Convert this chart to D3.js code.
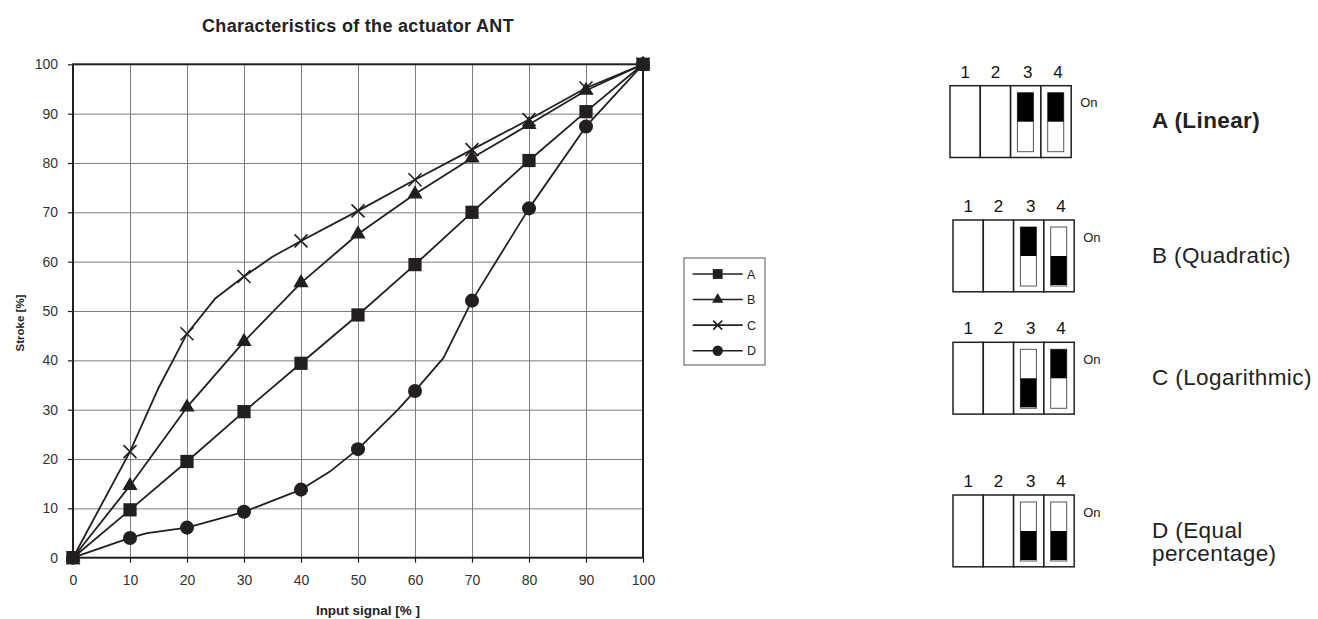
<!DOCTYPE html>
<html>
<head>
<meta charset="utf-8">
<script src="https://cdn.jsdelivr.net/npm/d3@7"></script>
<style>
  body { margin: 0; background: #fff; }
  svg { display: block; font-family: "Liberation Sans", Arial, sans-serif; }
</style>
</head>
<body>
<script>
// Characteristics of the actuator ANT

// input signal [%] where the markers sit
const signal = [0, 10, 20, 30, 40, 50, 60, 70, 80, 90, 100];
// stroke [%] for each characteristic
const strokeA = [0, 9.7, 19.5, 29.6, 39.4, 49.2, 59.4, 70.0, 80.5, 90.4, 100];
const strokeB = [0, 14.6, 30.5, 43.8, 55.7, 65.6, 73.7, 81.0, 87.8, 94.7, 100];
const strokeC = [0, 21.5, 45.4, 57.0, 64.2, 70.3, 76.6, 82.7, 88.8, 95.2, 100];
const strokeD = [0, 4.0, 6.1, 9.3, 13.8, 22.0, 33.8, 52.1, 70.8, 87.4, 100];
// extra bends of the drawn curves (no marker there)
const bendSignalC = [15, 25, 35];
const bendStrokeC = [34.4, 52.6, 61.0];
const bendSignalD = [13, 45, 57, 65];
const bendStrokeD = [5.0, 17.4, 30.0, 40.5];

const seriesNames = ["A", "B", "C", "D"];
const yTicks = [0, 10, 20, 30, 40, 50, 60, 70, 80, 90, 100];
const xTicks = [0, 10, 20, 30, 40, 50, 60, 70, 80, 90, 100];

// DIP switch settings (switch 3 and 4) for each characteristic
const switchNumbers = ["1", "2", "3", "4"];
const switch3 = ["up", "up", "down", "down"];
const switch4 = ["up", "down", "up", "down"];
const switchLabels = [["A (Linear)"], ["B (Quadratic)"], ["C (Logarithmic)"], ["D (Equal", "percentage)"]];
const switchBold = [true, false, false, false];

const width = 1318, height = 619;
const plot = {left: 73, right: 643, top: 64.3, bottom: 557.7};
const ink = "#231f20";

const svg = d3.select("body").append("svg")
  .attr("width", width)
  .attr("height", height);

const x = d3.scaleLinear().domain([0, 100]).range([plot.left, plot.right]);
const y = d3.scaleLinear().domain([0, 100]).range([plot.bottom, plot.top]);

// title
svg.append("text")
  .attr("x", 358).attr("y", 32)
  .attr("text-anchor", "middle")
  .style("font-weight", "bold")
  .style("font-size", "18px")
  .style("letter-spacing", "0.3px")
  .attr("fill", "#222")
  .text("Characteristics of the actuator ANT");

// grid
const grid = svg.append("g");
grid.append("g")
  .attr("transform", "translate(0," + plot.bottom + ")")
  .call(d3.axisBottom(x).tickValues(xTicks.slice(1, -1)).tickSize(-(plot.bottom - plot.top)).tickFormat(""))
  .call(g => g.select(".domain").remove());
grid.append("g")
  .attr("transform", "translate(" + plot.left + ",0)")
  .call(d3.axisLeft(y).tickValues(yTicks.slice(1, -1)).tickSize(-(plot.right - plot.left)).tickFormat(""))
  .call(g => g.select(".domain").remove());
grid.selectAll("line").attr("stroke", "#7d7d7d").attr("stroke-width", 1);

// axes
const xAxis = svg.append("g")
  .attr("transform", "translate(0," + plot.bottom + ")")
  .call(d3.axisBottom(x).tickValues(xTicks).tickSize(5).tickPadding(12).tickSizeOuter(0));
const yAxis = svg.append("g")
  .attr("transform", "translate(" + plot.left + ",0)")
  .call(d3.axisLeft(y).tickValues(yTicks).tickSize(5).tickPadding(10).tickSizeOuter(0));
[xAxis, yAxis].forEach(a => {
  a.select(".domain").remove();
  a.selectAll("line").attr("stroke", ink).attr("stroke-width", 1.2);
  a.selectAll("text").style("font-size", "14px").style("font-family", "'Liberation Sans', Arial, sans-serif").attr("fill", "#333");
});

// plot frame
svg.append("rect")
  .attr("x", plot.left).attr("y", plot.top)
  .attr("width", plot.right - plot.left).attr("height", plot.bottom - plot.top)
  .attr("fill", "none").attr("stroke", ink).attr("stroke-width", 2);

// axis titles
svg.append("text")
  .attr("x", 368).attr("y", 615)
  .attr("text-anchor", "middle")
  .style("font-weight", "bold").style("font-size", "13.5px")
  .attr("fill", "#222")
  .text("Input signal [% ]");
svg.append("text")
  .attr("transform", "translate(24,323) rotate(-90)")
  .attr("text-anchor", "middle")
  .style("font-weight", "bold").style("font-size", "11.5px")
  .attr("fill", "#222")
  .text("Stroke [%]");

// series
const strokes = [strokeA, strokeB, strokeC, strokeD];
const bendX = [[], [], bendSignalC, bendSignalD];
const bendY = [[], [], bendStrokeC, bendStrokeD];

function markerPath(name, big) {
  const k = big ? 1 : 0.55;
  if (name === "A") return d3.symbol().type(d3.symbolSquare).size(175 * k)();
  if (name === "B") return d3.symbol().type(d3.symbolTriangle).size(100 * k)();
  if (name === "D") return d3.symbol().type(d3.symbolCircle).size(155 * k)();
  const r = big ? 6.5 : 4.5;
  return "M" + (-r) + "," + (-r) + "L" + r + "," + r + "M" + (-r) + "," + r + "L" + r + "," + (-r);
}

const line = d3.line().x(d => x(d[0])).y(d => y(d[1]));

seriesNames.forEach((name, i) => {
  const pts = signal.map((s, j) => [s, strokes[i][j]])
    .concat(bendX[i].map((s, j) => [s, bendY[i][j]]))
    .sort((a, b) => a[0] - b[0]);
  svg.append("path")
    .datum(pts)
    .attr("d", line)
    .attr("fill", "none")
    .attr("stroke", ink)
    .attr("stroke-width", 1.8)
    .attr("stroke-linejoin", "round");
});

seriesNames.forEach((name, i) => {
  svg.append("g").selectAll("path")
    .data(signal.map((s, j) => [s, strokes[i][j]]))
    .join("path")
    .attr("transform", d => "translate(" + x(d[0]) + "," + y(d[1]) + ")")
    .attr("d", markerPath(name, true))
    .attr("fill", name === "C" ? "none" : ink)
    .attr("stroke", ink)
    .attr("stroke-width", name === "C" ? 1.6 : 0);
});

// legend
const legend = svg.append("g");
legend.append("rect")
  .attr("x", 684).attr("y", 258)
  .attr("width", 81).attr("height", 107)
  .attr("fill", "#fff").attr("stroke", "#555").attr("stroke-width", 1);
const legendY = d3.scalePoint().domain(seriesNames).range([274, 350.7]);
seriesNames.forEach(name => {
  const ly = legendY(name);
  legend.append("line")
    .attr("x1", 692.7).attr("x2", 742.7).attr("y1", ly).attr("y2", ly)
    .attr("stroke", ink).attr("stroke-width", 1.6);
  legend.append("path")
    .attr("transform", "translate(717.7," + ly + ")")
    .attr("d", markerPath(name, false))
    .attr("fill", name === "C" ? "none" : ink)
    .attr("stroke", ink)
    .attr("stroke-width", name === "C" ? 1.6 : 0);
  legend.append("text")
    .attr("x", 747).attr("y", ly + 4.5)
    .style("font-size", "12.5px").attr("fill", "#222")
    .text(name);
});

// DIP switch panels
const panelTop = [85.7, 220, 342.3, 495];
const panelLeft = [950, 953, 953, 953];
const cellW = 30.3, boxH = 71.8;

switchLabels.forEach((label, i) => {
  const g = svg.append("g").attr("transform", "translate(" + panelLeft[i] + "," + panelTop[i] + ")");
  switchNumbers.forEach((n, c) => {
    g.append("text")
      .attr("x", c * cellW + cellW / 2 + (c > 1 ? 2 : 0)).attr("y", -8)
      .attr("text-anchor", "middle")
      .style("font-size", "17px").attr("fill", "#111")
      .text(n);
    g.append("rect")
      .attr("x", c * cellW).attr("y", 0)
      .attr("width", cellW).attr("height", boxH)
      .attr("fill", "#fff").attr("stroke", ink).attr("stroke-width", 1.5);
  });
  [switch3[i], switch4[i]].forEach((state, k) => {
    const sx = (2 + k) * cellW + 6.8;
    g.append("rect")
      .attr("x", sx).attr("y", 7)
      .attr("width", 16).attr("height", 59)
      .attr("fill", "#fff").attr("stroke", "#555").attr("stroke-width", 1);
    g.append("rect")
      .attr("x", sx).attr("y", state === "up" ? 7 : 36)
      .attr("width", 16).attr("height", 29)
      .attr("fill", "#000");
  });
  g.append("text")
    .attr("x", 4 * cellW + 9).attr("y", 21.5)
    .style("font-size", "13px").attr("fill", "#222")
    .text("On");
  label.forEach((t, j) => {
    g.append("text")
      .attr("x", 1152 - panelLeft[i]).attr("y", 42.6 + j * 23.4)
      .style("font-size", "22.5px")
      .style("letter-spacing", "0.4px")
      .style("font-weight", switchBold[i] ? "bold" : "normal")
      .attr("fill", "#222")
      .text(t);
  });
});
</script>
</body>
</html>
